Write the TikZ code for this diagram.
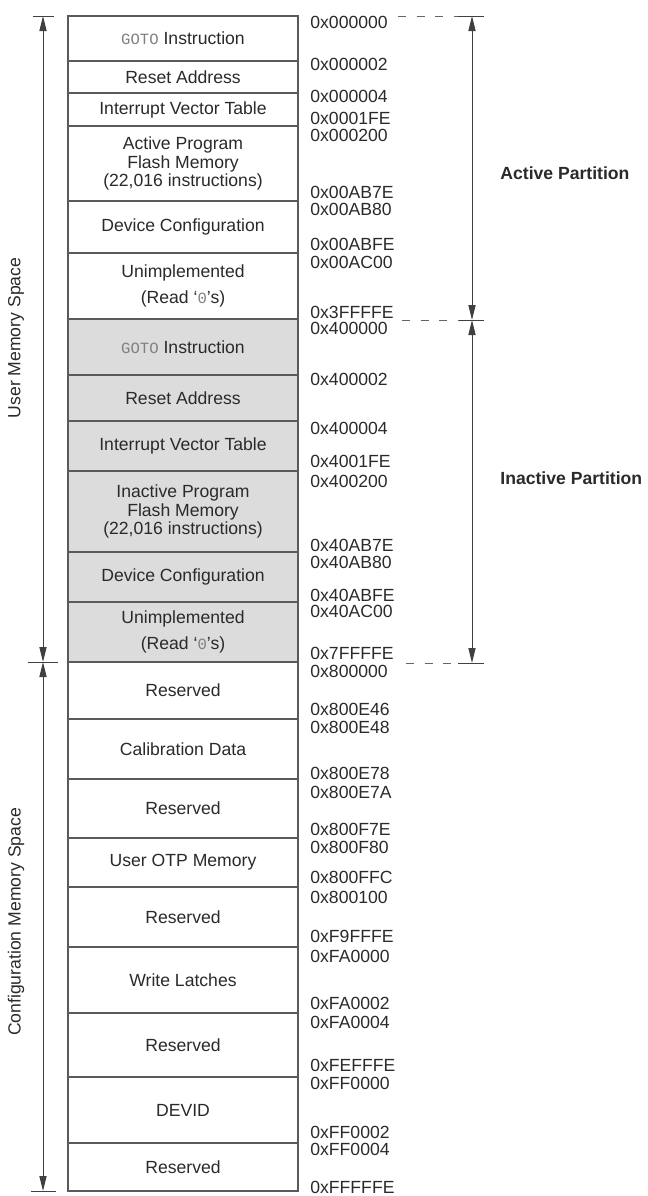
\documentclass[tikz,border=0pt]{standalone}
\usepackage{fontspec}
\setmainfont{Liberation Sans}
\newfontfamily\gotofont{Liberation Mono}
\usetikzlibrary{arrows.meta}
\definecolor{linegray}{HTML}{5A5A5A}
\definecolor{inactivegray}{HTML}{DCDCDC}
\definecolor{txtgray}{HTML}{2A2A2A}
\newcommand{\gotoword}{{\gotofont\fontsize{7.8pt}{8pt}\selectfont\color{gray}GOTO}}
\newcommand{\zeroglyph}{{\gotofont\fontsize{7.8pt}{8pt}\selectfont\color{gray}0}}

\tikzset{
  memrow/.style={draw=linegray, line width=0.75pt, minimum width=115pt, inner sep=0pt, align=center, text=txtgray},
  addr/.style={anchor=west, inner sep=0pt, text=txtgray},
  dimarrow/.style={draw=black!75, line width=0.5pt, {Triangle[width=3.6pt,length=7.5pt]}-{Triangle[width=3.6pt,length=7.5pt]}},
  tick/.style={draw=black!75, line width=0.5pt},
  guide/.style={draw=black!60, line width=0.5pt, dash pattern=on 4pt off 5.3pt},
}

\begin{document}
\begin{tikzpicture}[x=0.5pt, y=-0.5pt, font=\fontsize{8.8pt}{9.4pt}\selectfont]
    \useasboundingbox (0,0) rectangle (648,1196);

    % memory rows: top / bottom / fill / text
    \foreach \t/\b/\f/\lbl [count=\i] in {
        16/61/white/{\gotoword{} Instruction},
        61/93/white/{Reset Address},
        93/126/white/{Interrupt Vector Table},
        126/201/white/{Active Program\\Flash Memory\\(22,016 instructions)},
        201/253/white/{Device Configuration},
        253/319/white/{Unimplemented\\[3.6pt](Read `\zeroglyph's)},
        319/375/inactivegray/{\gotoword{} Instruction},
        375/421/inactivegray/{Reset Address},
        421/471/inactivegray/{Interrupt Vector Table},
        471/552/inactivegray/{Inactive Program\\Flash Memory\\(22,016 instructions)},
        552/602/inactivegray/{Device Configuration},
        602/662/inactivegray/{Unimplemented\\[3.6pt](Read `\zeroglyph's)},
        662/719/white/{Reserved},
        719/779/white/{Calibration Data},
        779/838/white/{Reserved},
        838/887/white/{User OTP Memory},
        887/947/white/{Reserved},
        947/1013/white/{Write Latches},
        1013/1077/white/{Reserved},
        1077/1143/white/{DEVID},
        1143/1191/white/{Reserved}}{
        \pgfmathsetmacro\h{(\b-\t)/2}
        \node[memrow, fill=\f, minimum height=\h pt] (row\i) at (183,{(\t+\b)/2}) {\lbl};
    }

    % addresses
    \foreach \y/\txt [count=\k] in {
        22/0x000000, 64/0x000002, 96/0x000004, 118/0x0001FE, 135/0x000200,
        192/0x00AB7E, 209/0x00AB80, 244/0x00ABFE, 262/0x00AC00, 312/0x3FFFFE,
        328/0x400000, 379/0x400002, 428/0x400004, 461/0x4001FE, 481/0x400200,
        545/0x40AB7E, 562/0x40AB80, 595/0x40ABFE, 611/0x40AC00, 653/0x7FFFFE,
        671/0x800000, 709/0x800E46, 727/0x800E48, 773/0x800E78, 792/0x800E7A,
        829/0x800F7E, 847/0x800F80, 877/0x800FFC, 897/0x800100, 936/0xF9FFFE,
        956/0xFA0000, 1003/0xFA0002, 1022/0xFA0004, 1065/0xFEFFFE, 1083/0xFF0000,
        1132/0xFF0002, 1149/0xFF0004, 1187/0xFFFFFE}{
        \node[addr] (addr\k) at (310,\y) {\txt};
    }

    % left dimension arrows
    \coordinate (usertop) at (43,16);
    \coordinate (usermid) at (43,662);
    \coordinate (userbot) at (43,1191);
    \draw[tick] ([xshift=-5pt]usertop) -- ([xshift=5.5pt]usertop);
    \draw[tick] ([xshift=-7.5pt]usermid) -- ([xshift=7.5pt]usermid);
    \draw[tick] ([xshift=-6pt]userbot) -- ([xshift=6.5pt]userbot);
    \draw[dimarrow] (usertop) -- (usermid);
    \draw[dimarrow] (usermid) -- (userbot);
    \node[rotate=90, text=txtgray] (userlbl) at (16,338) {User Memory Space};
    \node[rotate=90, text=txtgray] (cfglbl) at (16,922) {Configuration Memory Space};

    % right dimension arrows
    \coordinate (parttop) at (472,16);
    \coordinate (partmid) at (472,320);
    \coordinate (partbot) at (472,663);
    \foreach \c in {parttop, partmid, partbot}
        \draw[tick] ([xshift=-7pt]\c) -- ([xshift=6pt]\c);
    \draw[dimarrow] (parttop) -- (partmid);
    \draw[dimarrow] (partmid) -- (partbot);
    \draw[guide] ([xshift=5pt]addr1.east |- parttop) -- ([xshift=-7pt]parttop);
    \draw[guide] ([xshift=4pt]addr10.east |- partmid) -- ([xshift=-7pt]partmid);
    \draw[guide] ([xshift=6pt]addr20.east |- partbot) -- ([xshift=-7pt]partbot);
    \node[anchor=west, inner sep=0pt, text=txtgray, font=\fontsize{8.8pt}{9.4pt}\selectfont\bfseries] (actlbl) at (500,173) {Active Partition};
    \node[anchor=west, inner sep=0pt, text=txtgray, font=\fontsize{8.8pt}{9.4pt}\selectfont\bfseries] (inactlbl) at (500,478) {Inactive Partition};
\end{tikzpicture}
\end{document}
